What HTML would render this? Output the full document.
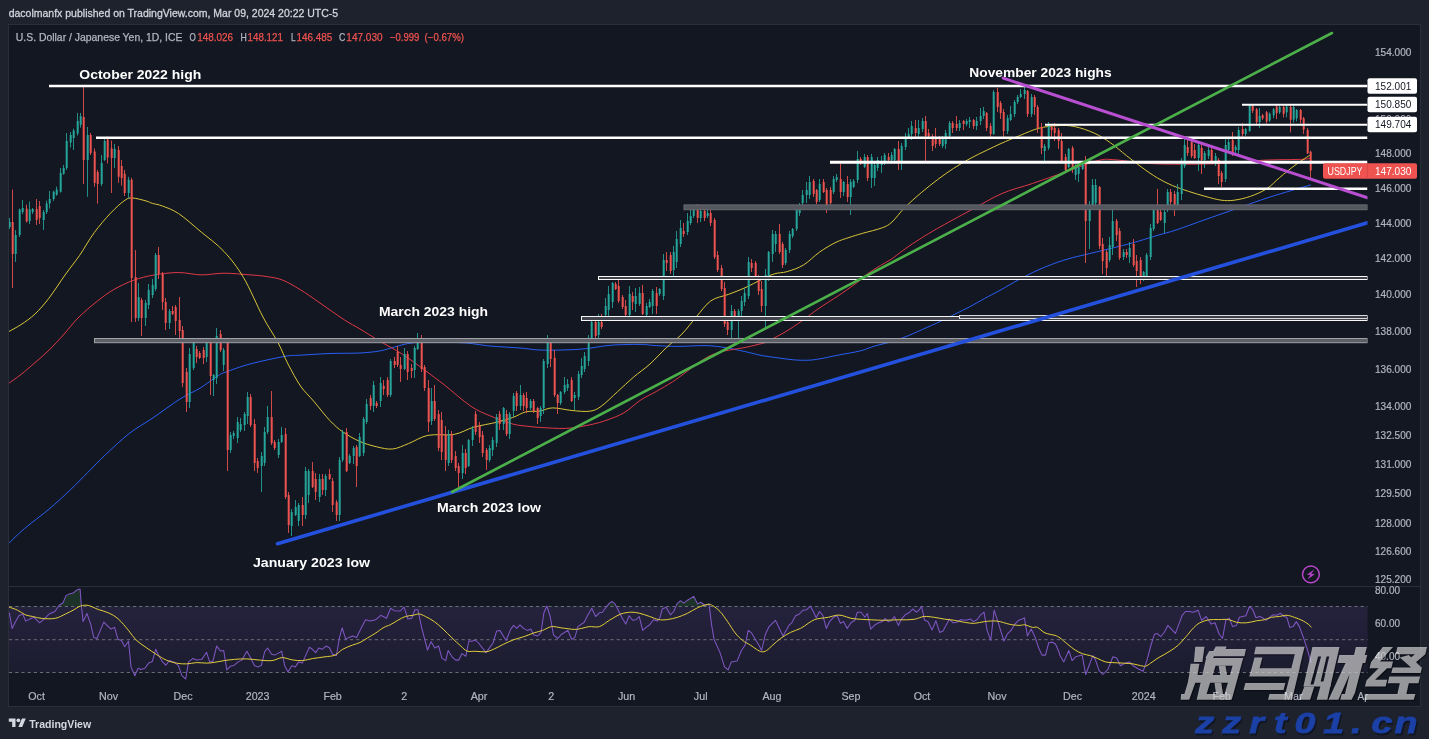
<!DOCTYPE html>
<html><head><meta charset="utf-8"><title>USDJPY</title>
<style>
html,body{margin:0;padding:0;background:#1e222d;}
body{width:1429px;height:739px;overflow:hidden;font-family:"Liberation Sans",sans-serif;}
svg{display:block;will-change:transform}
</style></head><body>
<svg width="1429" height="739" viewBox="0 0 1429 739" font-family="Liberation Sans, sans-serif">
<defs>
<linearGradient id="gBand" x1="0" y1="0" x2="0" y2="1"><stop offset="0" stop-color="#7e57c2" stop-opacity="0.17"/><stop offset="1" stop-color="#7e57c2" stop-opacity="0.08"/></linearGradient>
<clipPath id="cpMain"><rect x="9" y="25" width="1358.5" height="561"/></clipPath>
<clipPath id="cpTime"><rect x="9" y="685" width="1358.5" height="22"/></clipPath>
<clipPath id="cpOB"><rect x="9" y="587" width="1358.5" height="19.5"/></clipPath>
<clipPath id="cpRsi"><rect x="9" y="587" width="1358.5" height="97"/></clipPath>
</defs>
<rect x="0" y="0" width="1429" height="739" fill="#1e222d"/>
<rect x="8.5" y="24.5" width="1412" height="682" fill="#131722" stroke="#2a2e39" stroke-width="1"/>
<line x1="9" y1="586.5" x2="1420" y2="586.5" stroke="#2a2e39" stroke-width="1"/>
<rect x="9" y="606.5" width="1358.5" height="66" fill="url(#gBand)"/>
<line x1="9" y1="606.5" x2="1367.5" y2="606.5" stroke="#8a8d97" stroke-width="0.9" stroke-opacity="0.8" stroke-dasharray="3.2,3"/>
<line x1="9" y1="639.7" x2="1367.5" y2="639.7" stroke="#8a8d97" stroke-width="0.9" stroke-opacity="0.8" stroke-dasharray="3.2,3"/>
<line x1="9" y1="672.5" x2="1367.5" y2="672.5" stroke="#8a8d97" stroke-width="0.9" stroke-opacity="0.8" stroke-dasharray="3.2,3"/>
<g clip-path="url(#cpMain)">
<path d="M8.8 543.3C11.4 540.8 17.9 534.2 24.6 528.5C31.3 522.8 41.6 515.4 49.2 509.0C56.8 502.6 63.8 496.0 70.3 489.9C76.8 483.8 82.0 478.2 87.9 472.3C93.8 466.4 98.5 461.3 105.5 454.7C112.5 448.1 122.2 438.9 130.0 432.9C137.8 426.9 143.7 424.1 152.0 418.5C160.3 412.9 172.0 404.1 180.0 399.0C188.0 393.9 193.8 392.0 200.0 388.2C206.2 384.4 213.2 378.7 217.5 376.0C221.8 373.3 220.6 374.0 226.0 372.0C231.4 370.0 240.3 366.6 250.0 364.0C259.7 361.4 275.7 358.0 284.0 356.5C292.3 355.0 292.3 355.7 300.0 355.2C307.7 354.7 320.0 353.9 330.0 353.5C340.0 353.1 351.7 353.4 360.0 353.0C368.3 352.6 374.6 351.8 380.0 350.9C385.4 350.0 386.6 349.0 392.5 347.6C398.4 346.2 403.8 343.5 415.2 342.7C426.6 341.9 448.2 342.1 460.7 342.7C473.2 343.2 480.1 345.1 490.0 346.0C499.9 346.9 511.8 347.3 520.0 348.0C528.2 348.7 532.5 349.7 539.5 350.0C546.5 350.3 554.6 350.2 562.2 350.0C569.8 349.8 576.9 349.6 585.0 348.8C593.1 348.0 601.8 345.9 611.0 345.2C620.2 344.5 632.5 344.3 640.0 344.4C647.5 344.5 650.0 345.3 656.2 345.6C662.4 345.9 669.3 346.4 677.4 346.4C685.5 346.4 697.7 345.5 705.0 345.6C712.3 345.7 716.3 346.3 721.2 346.9C726.1 347.5 730.1 348.5 734.2 349.3C738.3 350.1 741.0 350.7 745.6 351.7C750.2 352.7 756.4 354.5 761.8 355.5C767.2 356.5 772.6 357.2 778.0 357.9C783.4 358.6 789.1 359.5 794.3 359.9C799.4 360.3 804.6 360.4 808.9 360.2C813.2 360.0 815.1 359.6 820.0 358.8C824.9 358.0 831.6 356.4 838.3 355.1C845.0 353.8 854.1 352.4 860.2 350.9C866.3 349.4 869.9 347.4 874.8 346.0C879.7 344.6 884.5 343.7 889.4 342.3C894.3 340.9 898.5 339.5 904.0 337.4C909.5 335.3 916.2 332.2 922.3 329.5C928.4 326.8 935.1 323.9 940.6 321.3C946.1 318.7 950.3 316.4 955.2 314.0C960.1 311.6 965.0 309.3 969.9 306.7C974.8 304.1 979.5 301.2 984.5 298.5C989.5 295.8 994.2 293.5 1000.0 290.3C1005.8 287.1 1013.0 282.8 1019.5 279.3C1026.0 275.9 1031.4 272.9 1039.0 269.6C1046.6 266.4 1055.2 262.8 1065.0 259.8C1074.8 256.8 1086.7 254.4 1097.5 251.7C1108.3 249.0 1120.2 246.2 1130.0 243.6C1139.8 240.9 1148.3 238.1 1156.0 235.8C1163.7 233.5 1167.8 232.7 1176.0 230.0C1184.2 227.3 1194.8 223.3 1205.0 219.7C1215.2 216.1 1226.7 212.1 1237.5 208.3C1248.3 204.5 1257.8 200.9 1270.0 197.0C1282.2 193.1 1303.8 187.0 1310.6 185.0" fill="none" stroke="#2962ff" stroke-width="0.95" stroke-linejoin="round" stroke-linecap="round" />
<path d="M8.8 383.3C10.8 381.8 16.6 377.9 21.0 374.5C25.4 371.1 30.3 366.7 35.0 362.6C39.7 358.5 44.5 354.6 49.2 350.0C53.9 345.4 58.5 340.3 63.3 335.0C68.1 329.7 72.3 323.7 78.0 318.0C83.7 312.3 91.5 305.7 97.5 301.0C103.5 296.3 107.8 293.0 113.7 289.6C119.7 286.2 126.5 282.8 133.2 280.4C139.9 278.0 146.4 276.3 154.0 275.0C161.6 273.7 170.6 272.5 178.5 272.5C186.4 272.5 193.6 274.8 201.2 274.9C208.8 275.0 215.9 273.2 224.0 273.2C232.1 273.2 243.0 274.3 250.0 274.9C257.0 275.4 260.8 275.6 266.2 276.5C271.6 277.4 276.8 277.8 282.4 280.0C288.0 282.2 293.7 285.7 300.0 289.5C306.3 293.3 312.6 297.9 320.0 303.0C327.4 308.1 337.9 315.7 344.6 320.0C351.3 324.3 354.2 325.5 360.0 329.0C365.8 332.5 372.5 336.8 379.5 341.0C386.5 345.2 394.6 349.1 402.2 354.0C409.8 358.9 417.9 365.2 425.0 370.4C432.1 375.6 436.9 379.1 444.5 385.0C452.1 390.9 462.9 400.9 470.5 406.0C478.1 411.1 483.0 412.8 490.0 415.8C497.0 418.8 506.0 422.2 512.7 424.0C519.4 425.8 525.0 425.9 530.0 426.5C535.0 427.1 536.8 427.3 542.7 427.6C548.6 427.9 558.5 428.7 565.5 428.4C572.5 428.1 578.5 427.1 585.0 425.8C591.5 424.6 598.0 423.1 604.5 420.9C611.0 418.7 618.1 416.2 624.0 412.8C629.9 409.4 634.6 404.1 640.0 400.5C645.4 396.9 650.8 394.6 656.2 391.5C661.6 388.4 667.9 384.8 672.5 381.8C677.1 378.8 679.8 376.7 683.9 373.7C688.0 370.7 692.6 366.9 696.9 363.9C701.2 360.9 705.8 357.8 709.9 355.8C714.0 353.8 717.7 352.7 721.2 351.7C724.7 350.7 727.2 350.5 731.0 349.8C734.8 349.1 739.7 348.6 744.0 347.7C748.3 346.8 753.4 345.6 757.0 344.7C760.6 343.8 762.9 343.5 765.9 342.3C768.9 341.1 771.4 339.4 774.8 337.6C778.2 335.8 781.9 334.0 786.2 331.4C790.5 328.8 796.7 324.5 800.8 321.7C804.9 318.9 807.4 316.8 810.6 314.4C813.8 312.0 815.4 310.7 820.0 307.6C824.6 304.5 832.2 299.8 838.3 295.7C844.4 291.6 851.6 286.6 856.5 283.0C861.4 279.4 863.5 276.7 867.5 273.8C871.5 270.9 876.3 268.0 880.3 265.6C884.3 263.2 887.6 261.6 891.3 259.2C894.9 256.8 897.9 254.1 902.2 251.0C906.5 247.9 911.0 244.7 916.9 240.9C922.8 237.1 928.6 233.5 937.5 228.4C946.4 223.3 959.2 216.4 970.0 210.6C980.8 204.8 991.6 198.0 1002.0 193.5C1012.4 189.0 1022.0 187.1 1032.5 183.5C1043.0 179.9 1054.2 175.9 1065.0 172.1C1075.8 168.3 1089.4 162.8 1097.5 160.7C1105.6 158.6 1105.6 159.3 1113.7 159.7C1121.8 160.1 1134.8 162.6 1146.2 163.3C1157.6 164.1 1169.7 164.2 1182.0 164.2C1194.3 164.2 1206.4 164.2 1220.0 163.5C1233.6 162.8 1249.8 160.9 1263.5 160.2C1277.2 159.5 1294.7 159.7 1302.5 159.3C1310.3 158.9 1309.2 158.2 1310.6 158.0" fill="none" stroke="#e83a48" stroke-width="0.95" stroke-linejoin="round" stroke-linecap="round" />
<path d="M8.8 331.6C10.8 330.4 16.6 327.5 21.0 324.6C25.4 321.7 30.4 318.4 35.0 314.0C39.6 309.6 43.7 305.0 48.7 298.5C53.7 292.0 59.9 282.2 65.0 275.0C70.2 267.8 74.7 262.4 79.6 255.4C84.5 248.3 89.0 239.7 94.2 232.7C99.4 225.7 105.4 218.6 110.5 213.2C115.6 207.8 121.3 202.7 125.0 200.2C128.7 197.7 129.0 197.9 132.5 198.0C136.0 198.1 142.9 200.1 146.2 201.0C149.5 201.9 149.8 202.6 152.5 203.4C155.2 204.2 158.1 204.3 162.4 206.0C166.7 207.7 172.0 209.2 178.5 213.5C185.0 217.8 193.6 225.7 201.2 232.0C208.8 238.3 216.9 243.9 224.0 251.5C231.1 259.1 237.0 266.6 243.5 277.5C250.0 288.4 257.2 306.1 263.0 317.0C268.8 327.9 273.8 334.8 278.0 342.6C282.2 350.4 284.2 356.8 288.0 364.0C291.8 371.2 296.2 379.8 300.5 386.0C304.8 392.2 308.8 395.4 313.7 401.2C318.6 407.0 325.1 415.6 330.0 420.7C334.9 425.8 338.1 428.6 343.0 432.0C347.9 435.4 354.0 438.9 359.5 441.3C365.0 443.8 370.7 445.4 376.2 446.7C381.7 448.0 387.1 449.5 392.5 449.0C397.9 448.5 402.8 445.8 408.7 443.5C414.6 441.2 420.6 436.8 428.2 435.3C435.8 433.8 446.6 435.8 454.2 434.4C461.8 433.0 466.6 429.2 473.7 427.2C480.8 425.2 490.0 423.9 496.5 422.3C503.0 420.7 507.8 419.2 512.7 417.5C517.6 415.8 521.2 413.0 525.7 411.9C530.2 410.8 535.5 411.7 540.0 411.0C544.5 410.3 547.2 408.0 552.5 407.9C557.8 407.8 565.8 409.9 572.0 410.5C578.2 411.1 584.9 411.9 589.8 411.2C594.7 410.5 596.6 409.6 601.2 406.3C605.8 403.1 612.1 396.6 617.5 391.7C622.9 386.8 628.3 381.6 633.7 377.0C639.1 372.4 644.6 368.9 650.0 364.0C655.4 359.1 660.9 352.8 666.2 347.8C671.5 342.8 677.0 339.1 682.0 334.0C687.0 328.9 691.4 322.5 696.2 317.0C701.0 311.5 705.5 304.6 710.9 300.8C716.3 297.0 723.0 296.5 728.7 294.3C734.4 292.1 739.6 290.2 745.0 287.8C750.4 285.4 756.3 282.0 761.2 279.7C766.1 277.4 769.9 275.2 774.2 273.9C778.5 272.5 782.3 273.1 787.2 271.6C792.1 270.1 798.1 268.3 803.5 265.0C808.9 261.7 814.3 255.8 819.7 252.0C825.1 248.2 831.1 244.7 836.0 242.3C840.9 239.9 844.5 239.0 849.0 237.5C853.5 236.0 857.2 234.9 862.7 233.3C868.2 231.7 877.3 229.7 882.2 227.8C887.1 225.9 888.2 225.4 892.0 222.0C895.8 218.6 900.1 212.2 905.0 207.3C909.9 202.4 915.8 197.3 921.2 192.7C926.6 188.1 932.1 183.8 937.5 179.7C942.9 175.6 948.3 171.8 953.7 168.3C959.1 164.8 964.6 161.6 970.0 158.6C975.4 155.6 981.0 153.0 986.2 150.5C991.4 148.0 995.4 146.0 1001.0 143.5C1006.6 141.0 1013.4 138.2 1019.7 135.6C1026.0 133.0 1032.5 129.9 1039.0 128.2C1045.5 126.5 1052.5 125.9 1058.5 125.6C1064.5 125.3 1068.8 125.3 1074.7 126.6C1080.7 127.8 1088.2 130.4 1094.2 133.1C1100.2 135.8 1105.1 139.0 1110.5 142.8C1115.9 146.6 1121.5 151.7 1126.7 155.8C1132.0 159.9 1136.9 163.8 1142.0 167.5C1147.1 171.2 1152.4 175.0 1157.5 178.0C1162.6 181.0 1167.3 183.4 1172.5 185.6C1177.7 187.8 1183.3 189.6 1188.7 191.4C1194.1 193.2 1199.6 194.8 1205.0 196.3C1210.4 197.8 1216.3 199.5 1221.2 200.2C1226.1 200.8 1229.3 200.8 1234.2 200.2C1239.1 199.5 1245.1 198.2 1250.5 196.3C1255.9 194.4 1261.8 191.9 1266.7 188.8C1271.6 185.7 1274.8 181.6 1279.7 177.5C1284.6 173.4 1290.8 168.3 1296.0 164.5C1301.2 160.7 1308.2 156.3 1310.6 154.7" fill="none" stroke="#e3cf3a" stroke-width="0.95" stroke-linejoin="round" stroke-linecap="round" />
<path d="M9.5 218.0V229.0M15.5 230.0V262.0M19.5 208.6V237.0M22.5 200.0V214.0M29.5 201.6V224.0M32.5 208.0V214.0M43.5 210.0V230.0M46.5 200.6V214.0M49.5 191.0V208.6M53.5 190.7V201.0M56.5 186.6V195.7M60.5 168.0V192.7M63.5 164.9V174.8M66.5 133.0V169.9M70.5 132.0V147.5M73.5 128.6V150.0M77.5 113.0V135.6M80.5 113.0V127.7M87.5 127.0V196.8M101.5 155.0V186.0M104.5 138.0V161.0M114.5 144.0V168.0M128.5 176.8V198.0M138.5 283.0V321.0M145.5 300.0V326.0M148.5 284.0V309.0M152.5 279.0V298.0M155.5 253.0V291.0M169.5 309.0V329.0M189.5 348.0V408.0M193.5 340.0V370.0M206.5 339.0V362.0M213.5 374.0V396.0M216.5 328.0V384.0M223.5 348.0V371.0M230.5 432.0V453.0M233.5 431.0V439.0M237.5 417.0V443.0M240.5 418.0V432.0M244.5 412.0V431.0M247.5 392.0V424.0M261.5 452.0V492.0M264.5 427.0V466.0M267.5 406.0V434.0M278.5 439.0V458.0M281.5 427.0V443.0M291.5 509.0V536.0M295.5 500.0V516.0M298.5 503.0V526.0M305.5 467.0V519.0M308.5 469.0V503.0M319.5 474.0V502.0M325.5 474.0V496.0M339.5 457.0V521.0M342.5 430.0V462.0M349.5 454.0V464.0M353.5 446.0V464.0M359.5 433.0V457.0M363.5 417.0V456.0M366.5 399.0V424.0M373.5 381.0V412.0M380.5 377.0V407.0M390.5 359.0V397.0M404.5 348.0V370.0M414.5 346.0V378.0M417.5 333.0V350.0M431.5 388.0V425.0M448.5 430.0V466.0M462.5 445.0V479.0M468.5 439.0V467.0M472.5 426.0V446.0M489.5 445.0V462.0M492.5 437.0V456.0M496.5 414.0V447.0M503.5 407.0V430.0M509.5 412.0V439.0M513.5 393.0V417.0M520.5 385.0V410.0M530.5 399.0V410.0M540.5 406.0V422.0M543.5 359.0V414.0M547.5 335.0V368.0M560.5 391.0V405.0M564.5 377.0V394.0M567.5 379.0V391.0M574.5 392.0V410.0M578.5 371.0V400.0M581.5 358.0V378.0M584.5 352.0V372.0M588.5 335.0V366.0M591.5 320.0V339.0M598.5 314.0V340.0M605.5 298.0V317.0M608.5 286.0V318.0M612.5 282.0V308.0M629.5 286.0V316.0M635.5 288.0V312.0M639.5 287.0V306.0M646.5 303.0V318.0M649.5 299.0V308.0M652.5 289.0V314.0M659.5 288.0V296.0M663.5 254.0V300.0M673.5 246.0V278.0M676.5 231.0V268.0M680.5 220.0V247.0M687.5 213.0V235.0M690.5 210.0V225.0M693.5 205.0V218.0M700.5 205.0V222.0M707.5 208.0V218.0M731.5 305.0V343.0M738.5 309.0V338.0M741.5 296.0V319.0M744.5 288.0V306.0M748.5 257.0V299.0M765.5 269.0V328.0M768.5 251.0V281.0M772.5 230.0V262.0M775.5 231.0V252.0M785.5 248.0V265.0M789.5 231.0V253.0M792.5 228.0V238.0M796.5 207.0V231.0M799.5 203.0V216.0M802.5 190.0V205.0M806.5 182.0V203.0M809.5 176.0V199.0M819.5 179.0V202.0M833.5 176.0V194.0M836.5 174.0V182.0M843.5 181.0V196.0M850.5 179.0V215.0M853.5 179.0V188.0M857.5 151.0V183.0M864.5 154.0V168.0M871.5 154.0V188.0M874.5 162.0V186.0M877.5 157.0V171.0M881.5 156.0V173.0M884.5 153.0V165.0M891.5 152.0V161.0M894.5 148.0V161.0M901.5 143.0V170.0M905.5 133.0V150.0M908.5 128.0V139.0M911.5 121.0V140.0M918.5 120.0V137.0M922.5 118.0V132.0M942.5 136.0V148.0M945.5 130.0V149.0M949.5 121.0V137.0M959.5 120.0V131.0M966.5 119.0V126.0M969.5 117.0V128.0M976.5 117.0V130.0M980.5 108.0V125.0M983.5 107.0V119.0M993.5 90.0V135.0M1007.5 115.0V134.0M1010.5 106.0V121.0M1014.5 100.0V117.0M1017.5 95.0V104.0M1020.5 89.0V98.0M1024.5 87.0V99.0M1031.5 94.0V117.0M1044.5 144.0V161.0M1048.5 122.0V150.0M1068.5 148.0V168.0M1075.5 164.0V180.0M1078.5 161.0V182.0M1082.5 163.0V170.0M1089.5 201.0V249.0M1092.5 179.0V208.0M1095.5 179.0V206.0M1109.5 237.0V262.0M1112.5 210.0V255.0M1123.5 249.0V260.0M1129.5 242.0V263.0M1143.5 271.0V281.0M1146.5 253.0V280.0M1150.5 224.0V260.0M1153.5 207.0V231.0M1164.5 206.0V233.0M1167.5 189.0V212.0M1177.5 184.0V208.0M1181.5 158.0V200.0M1184.5 139.0V168.0M1198.5 142.0V171.0M1204.5 151.0V168.0M1208.5 144.0V159.0M1215.5 153.0V166.0M1225.5 137.0V182.0M1228.5 138.0V152.0M1235.5 145.0V154.0M1238.5 127.0V156.0M1245.5 128.0V136.0M1249.5 104.4V131.9M1259.5 107.9V128.0M1269.5 112.5V122.0M1273.5 108.0V118.3M1279.5 105.5V114.0M1286.5 105.0V117.3M1293.5 105.5V122.8M1296.5 109.0V121.4" stroke="#26a69a" stroke-width="1" stroke-opacity="0.85" fill="none"/><path d="M12.5 189.6V288.0M26.5 204.7V222.5M36.5 199.0V225.0M39.5 201.0V224.0M83.5 86.5V184.0M90.5 133.0V155.0M94.5 148.5V186.8M97.5 170.0V203.6M107.5 136.6V163.4M111.5 140.5V193.0M118.5 146.0V182.8M121.5 160.0V185.7M124.5 169.8V196.0M131.5 177.8V322.0M135.5 250.0V322.0M141.5 298.0V336.0M158.5 247.0V279.0M162.5 272.0V310.0M165.5 298.0V330.0M172.5 306.0V315.0M175.5 305.0V335.0M179.5 297.0V339.0M182.5 326.0V387.0M186.5 368.0V412.0M196.5 346.0V363.0M199.5 351.0V359.0M203.5 347.0V364.0M210.5 338.0V395.0M220.5 330.0V352.0M227.5 341.0V471.0M250.5 394.0V427.0M254.5 419.0V471.0M257.5 458.0V473.0M271.5 391.0V445.0M274.5 440.0V450.0M285.5 428.0V499.0M288.5 492.0V533.0M302.5 497.0V526.0M312.5 462.0V488.0M315.5 473.0V500.0M322.5 474.0V495.0M329.5 469.0V480.0M332.5 478.0V512.0M336.5 500.0V521.0M346.5 428.0V472.0M356.5 445.0V487.0M370.5 395.0V410.0M376.5 401.0V408.0M383.5 380.0V395.0M387.5 377.0V397.0M394.5 357.0V368.0M397.5 346.0V367.0M400.5 357.0V382.0M407.5 351.0V380.0M411.5 364.0V378.0M421.5 335.0V372.0M424.5 365.0V391.0M428.5 380.0V432.0M434.5 385.0V421.0M438.5 410.0V451.0M441.5 412.0V460.0M445.5 426.0V471.0M451.5 431.0V463.0M455.5 451.0V471.0M458.5 463.0V487.0M465.5 449.0V474.0M475.5 411.0V435.0M479.5 422.0V443.0M482.5 431.0V457.0M486.5 448.0V470.0M499.5 411.0V430.0M506.5 410.0V436.0M516.5 391.0V411.0M523.5 393.0V411.0M526.5 392.0V413.0M533.5 399.0V413.0M537.5 407.0V424.0M550.5 341.0V367.0M554.5 350.0V397.0M557.5 394.0V414.0M571.5 377.0V402.0M595.5 318.0V342.0M601.5 314.0V329.0M615.5 282.0V290.0M618.5 277.0V303.0M622.5 295.0V309.0M625.5 300.0V317.0M632.5 292.0V310.0M642.5 285.0V315.0M656.5 287.0V314.0M666.5 252.0V271.0M670.5 252.0V274.0M683.5 223.0V237.0M697.5 204.0V223.0M704.5 209.0V221.0M710.5 210.0V226.0M714.5 218.0V259.0M717.5 251.0V272.0M721.5 265.0V291.0M724.5 282.0V327.0M727.5 320.0V335.0M734.5 309.0V320.0M751.5 259.0V272.0M755.5 261.0V280.0M758.5 275.0V295.0M761.5 281.0V312.0M779.5 224.0V254.0M782.5 242.0V268.0M813.5 179.0V197.0M816.5 189.0V204.0M823.5 179.0V193.0M826.5 188.0V213.0M830.5 187.0V205.0M840.5 164.0V198.0M847.5 176.0V202.0M860.5 157.0V165.0M867.5 155.0V181.0M888.5 153.0V161.0M898.5 141.0V170.0M915.5 120.0V138.0M925.5 116.0V163.0M928.5 129.0V139.0M932.5 134.0V151.0M935.5 128.0V148.0M939.5 136.0V146.0M952.5 121.0V133.0M956.5 116.0V131.0M963.5 120.0V130.0M973.5 119.0V129.0M986.5 112.0V131.0M990.5 123.0V138.0M997.5 88.0V112.0M1000.5 101.0V119.0M1003.5 109.0V139.0M1027.5 90.0V117.0M1034.5 95.0V115.0M1037.5 105.0V133.0M1041.5 123.0V154.0M1051.5 126.0V138.0M1054.5 123.0V141.0M1058.5 128.0V149.0M1061.5 133.0V162.0M1065.5 154.0V172.0M1072.5 146.0V173.0M1085.5 156.0V263.0M1099.5 186.0V249.0M1102.5 238.0V274.0M1106.5 250.0V276.0M1116.5 219.0V241.0M1119.5 228.0V260.0M1126.5 249.0V258.0M1133.5 239.0V267.0M1136.5 255.0V287.0M1140.5 257.0V284.0M1157.5 189.0V224.0M1160.5 206.0V221.0M1170.5 189.0V208.0M1174.5 191.0V216.0M1187.5 139.0V156.0M1191.5 139.0V158.0M1194.5 144.0V159.0M1201.5 142.0V174.0M1211.5 145.0V164.0M1218.5 158.0V184.0M1221.5 171.0V187.0M1232.5 132.0V156.0M1242.5 123.0V139.0M1252.5 104.6V113.0M1256.5 108.0V125.7M1262.5 114.0V120.0M1266.5 111.0V123.5M1276.5 105.0V119.1M1283.5 105.5V117.5M1290.5 105.5V132.4M1300.5 109.0V123.5M1303.5 117.0V133.9M1307.5 128.0V154.0M1310.5 150.7V178.5" stroke="#ef5350" stroke-width="1" stroke-opacity="0.85" fill="none"/><path d="M8.7 222.0h2V227.0h-2zM14.7 235.0h2V254.0h-2zM18.7 209.6h2V235.0h-2zM21.7 208.0h2V212.0h-2zM28.7 209.6h2V221.0h-2zM31.7 209.0h2V212.0h-2zM42.7 212.0h2V220.0h-2zM45.7 203.6h2V212.0h-2zM48.7 199.0h2V203.6h-2zM52.7 191.7h2V199.0h-2zM55.7 189.6h2V194.7h-2zM59.7 173.0h2V191.7h-2zM62.7 167.9h2V173.8h-2zM65.7 141.0h2V167.9h-2zM69.7 135.0h2V142.5h-2zM72.7 130.6h2V138.0h-2zM76.7 121.0h2V133.6h-2zM79.7 116.3h2V124.7h-2zM86.7 135.0h2V160.0h-2zM100.7 163.0h2V184.0h-2zM103.7 141.0h2V160.0h-2zM113.7 149.0h2V158.0h-2zM127.7 179.8h2V193.0h-2zM137.7 297.0h2V318.0h-2zM144.7 303.0h2V318.0h-2zM147.7 290.0h2V305.0h-2zM151.7 285.0h2V295.0h-2zM154.7 255.0h2V289.0h-2zM168.7 311.0h2V323.0h-2zM188.7 354.0h2V402.0h-2zM192.7 342.0h2V368.0h-2zM205.7 342.0h2V357.0h-2zM212.7 375.0h2V380.0h-2zM215.7 336.0h2V378.0h-2zM222.7 350.0h2V365.0h-2zM229.7 435.0h2V450.0h-2zM232.7 433.0h2V436.0h-2zM236.7 422.0h2V438.0h-2zM239.7 424.0h2V430.0h-2zM243.7 414.0h2V425.0h-2zM246.7 397.0h2V416.0h-2zM260.7 456.0h2V466.0h-2zM263.7 432.0h2V463.0h-2zM266.7 417.0h2V432.0h-2zM277.7 442.0h2V455.0h-2zM280.7 435.0h2V442.0h-2zM290.7 512.0h2V526.0h-2zM294.7 507.0h2V515.0h-2zM297.7 505.0h2V521.0h-2zM304.7 471.0h2V515.0h-2zM307.7 471.0h2V495.0h-2zM318.7 479.0h2V497.0h-2zM324.7 476.0h2V490.0h-2zM338.7 460.0h2V515.0h-2zM341.7 432.0h2V460.0h-2zM348.7 456.0h2V463.0h-2zM352.7 448.0h2V456.0h-2zM358.7 437.0h2V456.0h-2zM362.7 419.0h2V453.0h-2zM365.7 404.0h2V422.0h-2zM372.7 385.0h2V406.0h-2zM379.7 383.0h2V401.0h-2zM389.7 361.0h2V395.0h-2zM403.7 354.0h2V369.0h-2zM413.7 348.0h2V370.0h-2zM416.7 343.0h2V349.0h-2zM430.7 401.0h2V421.0h-2zM447.7 434.0h2V463.0h-2zM461.7 453.0h2V473.0h-2zM467.7 440.0h2V466.0h-2zM471.7 429.0h2V440.0h-2zM488.7 448.0h2V460.0h-2zM491.7 440.0h2V450.0h-2zM495.7 417.0h2V443.0h-2zM502.7 408.0h2V424.0h-2zM508.7 414.0h2V434.0h-2zM512.7 396.0h2V411.0h-2zM519.7 395.0h2V406.0h-2zM529.7 401.0h2V408.0h-2zM539.7 408.0h2V416.0h-2zM542.7 361.0h2V408.0h-2zM546.7 343.0h2V364.0h-2zM559.7 392.0h2V403.0h-2zM563.7 385.0h2V392.0h-2zM566.7 384.0h2V388.0h-2zM573.7 395.0h2V398.0h-2zM577.7 374.0h2V397.0h-2zM580.7 366.0h2V375.0h-2zM583.7 356.0h2V369.0h-2zM587.7 343.0h2V361.0h-2zM590.7 322.0h2V338.0h-2zM597.7 322.0h2V335.0h-2zM604.7 306.0h2V315.0h-2zM607.7 294.0h2V310.0h-2zM611.7 283.0h2V302.0h-2zM628.7 294.0h2V315.0h-2zM634.7 296.0h2V304.0h-2zM638.7 293.0h2V304.0h-2zM645.7 306.0h2V315.0h-2zM648.7 302.0h2V307.0h-2zM651.7 291.0h2V306.0h-2zM658.7 289.0h2V294.0h-2zM662.7 260.0h2V296.0h-2zM672.7 252.0h2V270.0h-2zM675.7 239.0h2V262.0h-2zM679.7 228.0h2V244.0h-2zM686.7 221.0h2V232.0h-2zM689.7 216.0h2V223.0h-2zM692.7 210.0h2V216.0h-2zM699.7 211.0h2V218.0h-2zM706.7 213.0h2V216.0h-2zM730.7 311.0h2V330.0h-2zM737.7 311.0h2V317.0h-2zM740.7 301.0h2V311.0h-2zM743.7 293.0h2V302.0h-2zM747.7 262.0h2V296.0h-2zM764.7 275.0h2V306.0h-2zM767.7 252.0h2V276.0h-2zM771.7 234.0h2V254.0h-2zM774.7 234.0h2V244.0h-2zM784.7 250.0h2V263.0h-2zM788.7 234.0h2V250.0h-2zM791.7 229.0h2V236.0h-2zM795.7 210.0h2V229.0h-2zM798.7 208.0h2V213.0h-2zM801.7 195.0h2V203.0h-2zM805.7 190.0h2V195.0h-2zM808.7 182.0h2V195.0h-2zM818.7 184.0h2V200.0h-2zM832.7 179.0h2V192.0h-2zM835.7 177.0h2V180.0h-2zM842.7 182.0h2V192.0h-2zM849.7 182.0h2V197.0h-2zM852.7 181.0h2V187.0h-2zM856.7 159.0h2V180.0h-2zM863.7 157.0h2V167.0h-2zM870.7 157.0h2V178.0h-2zM873.7 165.0h2V178.0h-2zM876.7 160.0h2V168.0h-2zM880.7 162.0h2V165.0h-2zM883.7 155.0h2V162.0h-2zM890.7 155.0h2V160.0h-2zM893.7 149.0h2V160.0h-2zM900.7 146.0h2V162.0h-2zM904.7 139.0h2V147.0h-2zM907.7 134.0h2V137.0h-2zM910.7 126.0h2V134.0h-2zM917.7 128.0h2V134.0h-2zM921.7 121.0h2V129.0h-2zM941.7 137.0h2V146.0h-2zM944.7 133.0h2V144.0h-2zM948.7 123.0h2V136.0h-2zM958.7 123.0h2V128.0h-2zM965.7 121.0h2V124.0h-2zM968.7 120.0h2V122.0h-2zM975.7 121.0h2V126.0h-2zM979.7 116.0h2V121.0h-2zM982.7 111.0h2V116.0h-2zM992.7 92.0h2V134.0h-2zM1006.7 118.0h2V131.0h-2zM1009.7 114.0h2V120.0h-2zM1013.7 102.0h2V114.0h-2zM1016.7 97.0h2V102.0h-2zM1019.7 94.0h2V97.0h-2zM1023.7 90.0h2V94.0h-2zM1030.7 97.0h2V114.0h-2zM1043.7 146.0h2V151.0h-2zM1047.7 125.0h2V148.0h-2zM1067.7 149.0h2V167.0h-2zM1074.7 166.0h2V175.0h-2zM1077.7 167.0h2V174.0h-2zM1081.7 164.0h2V169.0h-2zM1088.7 209.0h2V221.0h-2zM1091.7 185.0h2V205.0h-2zM1094.7 185.0h2V203.0h-2zM1108.7 245.0h2V260.0h-2zM1111.7 221.0h2V247.0h-2zM1122.7 252.0h2V257.0h-2zM1128.7 248.0h2V257.0h-2zM1142.7 272.0h2V278.0h-2zM1145.7 255.0h2V278.0h-2zM1149.7 228.0h2V257.0h-2zM1152.7 210.0h2V229.0h-2zM1163.7 212.0h2V223.0h-2zM1166.7 192.0h2V210.0h-2zM1176.7 192.0h2V205.0h-2zM1180.7 164.0h2V194.0h-2zM1183.7 145.0h2V166.0h-2zM1197.7 145.0h2V158.0h-2zM1203.7 153.0h2V160.0h-2zM1207.7 150.0h2V156.0h-2zM1214.7 156.0h2V164.0h-2zM1224.7 145.0h2V179.0h-2zM1227.7 142.0h2V150.0h-2zM1234.7 147.0h2V150.0h-2zM1237.7 130.0h2V150.0h-2zM1244.7 129.0h2V134.0h-2zM1248.7 104.9h2V130.9h-2zM1258.7 116.0h2V122.0h-2zM1268.7 113.8h2V120.5h-2zM1272.7 109.3h2V115.3h-2zM1278.7 107.1h2V112.3h-2zM1285.7 106.4h2V112.3h-2zM1292.7 107.1h2V119.8h-2zM1295.7 110.0h2V118.3h-2z" fill="#26a69a"/><path d="M11.7 222.0h2V254.0h-2zM25.7 208.7h2V221.5h-2zM35.7 209.0h2V220.0h-2zM38.7 206.0h2V218.0h-2zM82.7 117.0h2V160.0h-2zM89.7 135.0h2V153.0h-2zM93.7 151.5h2V182.8h-2zM96.7 172.0h2V184.0h-2zM106.7 139.6h2V157.4h-2zM110.7 148.5h2V158.0h-2zM117.7 150.0h2V176.8h-2zM120.7 166.0h2V178.0h-2zM123.7 173.8h2V193.0h-2zM130.7 179.8h2V278.0h-2zM134.7 277.0h2V318.0h-2zM140.7 300.0h2V318.0h-2zM157.7 255.0h2V274.0h-2zM161.7 274.0h2V302.0h-2zM164.7 302.0h2V323.0h-2zM171.7 311.0h2V314.0h-2zM174.7 307.0h2V321.0h-2zM178.7 320.0h2V331.0h-2zM181.7 330.0h2V383.0h-2zM185.7 372.0h2V402.0h-2zM195.7 349.0h2V357.0h-2zM198.7 353.0h2V358.0h-2zM202.7 350.0h2V358.0h-2zM209.7 342.0h2V376.0h-2zM219.7 334.0h2V350.0h-2zM226.7 342.0h2V450.0h-2zM249.7 397.0h2V425.0h-2zM253.7 424.0h2V463.0h-2zM256.7 461.0h2V468.0h-2zM270.7 417.0h2V443.0h-2zM273.7 442.0h2V448.0h-2zM284.7 434.0h2V497.0h-2zM287.7 495.0h2V525.0h-2zM301.7 505.0h2V515.0h-2zM311.7 471.0h2V487.0h-2zM314.7 479.0h2V492.0h-2zM321.7 479.0h2V490.0h-2zM328.7 474.0h2V479.0h-2zM331.7 481.0h2V505.0h-2zM335.7 502.0h2V515.0h-2zM345.7 432.0h2V471.0h-2zM355.7 447.0h2V466.0h-2zM369.7 398.0h2V406.0h-2zM375.7 403.0h2V406.0h-2zM382.7 386.0h2V389.0h-2zM386.7 380.0h2V395.0h-2zM393.7 361.0h2V365.0h-2zM396.7 352.0h2V365.0h-2zM399.7 365.0h2V369.0h-2zM406.7 354.0h2V372.0h-2zM410.7 368.0h2V371.0h-2zM420.7 343.0h2V369.0h-2zM423.7 367.0h2V388.0h-2zM427.7 388.0h2V422.0h-2zM433.7 401.0h2V419.0h-2zM437.7 414.0h2V448.0h-2zM440.7 420.0h2V452.0h-2zM444.7 434.0h2V460.0h-2zM450.7 434.0h2V460.0h-2zM454.7 456.0h2V468.0h-2zM457.7 466.0h2V473.0h-2zM464.7 453.0h2V468.0h-2zM474.7 414.0h2V432.0h-2zM478.7 426.0h2V437.0h-2zM481.7 435.0h2V453.0h-2zM485.7 450.0h2V460.0h-2zM498.7 414.0h2V424.0h-2zM505.7 414.0h2V434.0h-2zM515.7 393.0h2V406.0h-2zM522.7 395.0h2V406.0h-2zM525.7 398.0h2V408.0h-2zM532.7 401.0h2V411.0h-2zM536.7 408.0h2V418.0h-2zM549.7 343.0h2V359.0h-2zM553.7 358.0h2V395.0h-2zM556.7 395.0h2V403.0h-2zM570.7 380.0h2V401.0h-2zM594.7 322.0h2V336.0h-2zM600.7 322.0h2V327.0h-2zM614.7 284.0h2V289.0h-2zM617.7 286.0h2V301.0h-2zM621.7 297.0h2V307.0h-2zM624.7 306.0h2V315.0h-2zM631.7 296.0h2V302.0h-2zM641.7 293.0h2V314.0h-2zM655.7 293.0h2V306.0h-2zM665.7 260.0h2V263.0h-2zM669.7 255.0h2V271.0h-2zM682.7 231.0h2V234.0h-2zM696.7 210.0h2V218.0h-2zM703.7 211.0h2V218.0h-2zM709.7 213.0h2V223.0h-2zM713.7 220.0h2V257.0h-2zM716.7 255.0h2V270.0h-2zM720.7 268.0h2V289.0h-2zM723.7 288.0h2V324.0h-2zM726.7 322.0h2V330.0h-2zM733.7 311.0h2V317.0h-2zM750.7 263.0h2V268.0h-2zM754.7 263.0h2V276.0h-2zM757.7 276.0h2V291.0h-2zM760.7 289.0h2V306.0h-2zM778.7 234.0h2V252.0h-2zM781.7 244.0h2V265.0h-2zM812.7 181.0h2V194.0h-2zM815.7 190.0h2V202.0h-2zM822.7 182.0h2V192.0h-2zM825.7 190.0h2V205.0h-2zM829.7 190.0h2V203.0h-2zM839.7 179.0h2V192.0h-2zM846.7 184.0h2V197.0h-2zM859.7 159.0h2V163.0h-2zM866.7 157.0h2V178.0h-2zM887.7 157.0h2V160.0h-2zM897.7 149.0h2V162.0h-2zM914.7 128.0h2V133.0h-2zM924.7 121.0h2V136.0h-2zM927.7 133.0h2V136.0h-2zM931.7 136.0h2V146.0h-2zM934.7 137.0h2V144.0h-2zM938.7 137.0h2V144.0h-2zM951.7 123.0h2V128.0h-2zM955.7 124.0h2V128.0h-2zM962.7 121.0h2V124.0h-2zM972.7 120.0h2V126.0h-2zM985.7 113.0h2V128.0h-2zM989.7 126.0h2V134.0h-2zM996.7 92.0h2V107.0h-2zM999.7 103.0h2V113.0h-2zM1002.7 112.0h2V131.0h-2zM1026.7 91.0h2V114.0h-2zM1033.7 97.0h2V107.0h-2zM1036.7 107.0h2V128.0h-2zM1040.7 127.0h2V148.0h-2zM1050.7 127.0h2V130.0h-2zM1053.7 128.0h2V133.0h-2zM1057.7 130.0h2V141.0h-2zM1060.7 141.0h2V161.0h-2zM1064.7 157.0h2V170.0h-2zM1071.7 148.0h2V169.0h-2zM1084.7 164.0h2V221.0h-2zM1098.7 187.0h2V246.0h-2zM1101.7 244.0h2V261.0h-2zM1105.7 252.0h2V268.0h-2zM1115.7 221.0h2V235.0h-2zM1118.7 231.0h2V258.0h-2zM1125.7 252.0h2V255.0h-2zM1132.7 244.0h2V265.0h-2zM1135.7 261.0h2V271.0h-2zM1139.7 260.0h2V280.0h-2zM1156.7 210.0h2V223.0h-2zM1159.7 212.0h2V220.0h-2zM1169.7 192.0h2V202.0h-2zM1173.7 194.0h2V205.0h-2zM1186.7 147.0h2V153.0h-2zM1190.7 142.0h2V156.0h-2zM1193.7 150.0h2V158.0h-2zM1200.7 148.0h2V160.0h-2zM1210.7 150.0h2V161.0h-2zM1217.7 160.0h2V176.0h-2zM1220.7 173.0h2V182.0h-2zM1231.7 140.0h2V153.0h-2zM1241.7 129.0h2V134.0h-2zM1251.7 105.6h2V110.8h-2zM1255.7 109.3h2V122.0h-2zM1261.7 115.3h2V118.3h-2zM1265.7 112.3h2V121.3h-2zM1275.7 106.4h2V113.1h-2zM1282.7 107.1h2V113.8h-2zM1289.7 107.1h2V119.8h-2zM1299.7 110.0h2V119.8h-2zM1302.7 118.3h2V129.4h-2zM1306.7 129.9h2V153.2h-2zM1309.7 151.8h2V170.4h-2z" fill="#ef5350"/>
<rect x="94.5" y="338.5" width="1273.0" height="4.199999999999989" fill="#5d5f67" stroke="#a0a2a8" stroke-width="1"/>
<rect x="581.5" y="316.5" width="786.0" height="4.0" fill="#41434d" stroke="#f6f6f6" stroke-width="1"/>
<rect x="959.5" y="315.5" width="408.0" height="3.0" fill="#3b3d47" stroke="#dcdcde" stroke-width="1"/>
<rect x="598.5" y="276.5" width="769.0" height="3.0" fill="#3f414b" stroke="#fafafa" stroke-width="1"/>
<rect x="684" y="204.9" width="683.5" height="4.799999999999983" fill="#55575f" stroke="#6a6c74" stroke-width="1"/>
<line x1="49" y1="86" x2="1367.5" y2="86" stroke="#ffffff" stroke-width="2.6"/>
<line x1="96" y1="137.8" x2="1367.5" y2="137.8" stroke="#ffffff" stroke-width="2.6"/>
<line x1="830" y1="162.3" x2="1367.5" y2="162.3" stroke="#ffffff" stroke-width="3"/>
<line x1="1204" y1="188.7" x2="1367.5" y2="188.7" stroke="#ffffff" stroke-width="2.6"/>
<line x1="1045" y1="124.8" x2="1367.5" y2="124.8" stroke="#ffffff" stroke-width="2"/>
<line x1="1242" y1="104.7" x2="1367.5" y2="104.7" stroke="#ffffff" stroke-width="2"/>
<line x1="277.5" y1="543.7" x2="1367.5" y2="222.8" stroke="#2350dc" stroke-width="3.6" stroke-linecap="round"/>
<line x1="452" y1="492" x2="1332" y2="33" stroke="#4cb04a" stroke-width="2.6" stroke-linecap="round"/>
<line x1="1003.2" y1="78.1" x2="1367.5" y2="197.8" stroke="#b74fd0" stroke-width="3" stroke-linecap="round"/>
</g>
<g font-family="Liberation Sans, sans-serif" font-weight="bold" fill="#fff" font-size="13.6">
<text x="79.3" y="78.5" textLength="122" lengthAdjust="spacingAndGlyphs">October 2022 high</text>
<text x="969.3" y="77.2" textLength="142.4" lengthAdjust="spacingAndGlyphs">November 2023 highs</text>
<text x="379" y="315.5" textLength="109" lengthAdjust="spacingAndGlyphs">March 2023 high</text>
<text x="437" y="511.5" textLength="104" lengthAdjust="spacingAndGlyphs">March 2023 low</text>
<text x="253" y="566.5" textLength="117" lengthAdjust="spacingAndGlyphs">January 2023 low</text>
</g>
<g clip-path="url(#cpRsi)">
<path d="M9.3 612.8L12.1 628.4L15.6 621.6L18.9 615.8L22.7 614.0L25.7 621.1L29.7 619.1L34.0 617.3L39.6 622.8L44.1 619.1L49.1 614.0L54.9 611.5L59.2 605.2L63.0 602.7L66.0 595.6L69.3 593.9L73.1 593.1L76.8 590.1L80.1 589.1L81.1 602.7L83.1 621.6L86.9 613.5L90.7 624.1L93.7 637.4L97.0 638.5L100.3 630.4L103.8 622.1L107.1 625.4L110.9 629.1L114.6 627.4L117.9 639.2L121.4 640.5L124.7 646.8L128.5 641.2L131.0 666.9L134.8 675.7L138.1 668.2L141.1 669.4L144.9 668.2L148.7 663.1L152.4 661.4L155.7 649.3L158.7 655.6L162.5 661.9L165.8 665.2L169.3 660.6L173.8 661.9L178.4 665.7L181.9 675.7L185.7 679.0L188.5 661.9L192.7 658.6L196.5 660.1L201.6 659.6L206.6 652.3L209.6 661.9L212.9 661.1L216.7 646.0L220.5 651.1L223.7 650.5L226.8 669.9L230.5 666.2L234.3 665.2L238.1 661.9L241.9 660.1L246.9 651.3L250.7 658.1L254.5 665.7L258.3 666.9L261.5 665.2L264.6 651.8L267.6 648.0L271.6 654.3L274.6 655.1L278.4 653.1L281.7 651.3L284.7 665.7L288.0 672.0L291.8 665.7L295.3 666.9L298.6 661.9L302.3 663.1L305.6 655.6L309.4 647.3L312.4 649.3L315.7 652.6L318.7 648.0L322.0 649.3L326.3 646.0L329.6 648.0L332.6 654.3L336.4 655.6L339.4 637.9L342.2 627.9L345.7 639.2L349.0 637.4L352.7 635.9L356.5 637.4L360.0 630.4L365.5 619.8L370.1 621.1L375.6 619.8L380.7 615.3L386.5 618.3L390.7 608.2L394.0 610.7L400.3 611.0L404.1 607.2L407.9 619.1L411.7 618.3L414.9 609.7L417.9 609.7L421.7 627.9L427.5 650.0L431.1 641.7L434.8 648.0L438.6 646.0L441.9 658.1L445.7 660.6L448.2 650.5L452.0 656.8L455.7 660.1L458.8 660.1L462.0 653.6L465.8 656.3L468.8 641.0L472.1 641.2L475.4 640.0L478.9 643.5L486.0 652.6L493.0 643.0L496.6 631.1L499.8 630.4L506.1 640.5L510.7 629.1L513.7 625.4L516.7 628.4L520.0 624.8L523.8 628.6L527.5 630.4L530.8 629.1L533.8 634.9L537.6 635.9L540.9 632.9L543.9 612.8L546.9 606.0L550.2 616.5L553.5 634.9L557.8 638.5L561.6 634.2L567.9 630.4L571.6 639.2L574.9 637.4L577.9 626.6L584.2 622.3L588.0 614.8L591.8 608.2L595.6 616.5L599.4 612.8L602.4 612.2L605.7 607.7L609.4 603.2L612.0 601.4L615.0 603.9L618.3 610.2L622.0 617.8L625.8 624.1L629.1 615.8L632.6 620.3L635.9 619.8L639.2 616.5L642.7 630.4L646.0 627.4L649.7 624.8L653.5 619.8L657.3 621.1L659.8 617.8L662.3 609.0L666.1 607.2L670.4 614.8L673.7 611.5L677.0 603.9L680.5 600.7L683.8 603.2L687.5 600.2L693.8 596.4L697.6 603.9L700.6 602.2L705.2 605.2L709.0 603.9L711.5 624.1L714.0 639.2L720.0 652.6L724.5 666.9L728.1 669.9L731.3 661.9L737.1 661.1L741.4 650.5L745.2 645.0L748.2 630.4L751.5 632.9L755.3 639.2L759.1 645.5L761.6 650.5L765.4 634.2L769.1 626.6L775.4 620.3L783.0 635.9L789.3 624.8L791.8 622.8L795.6 615.8L799.4 614.0L803.1 610.2L806.9 609.7L810.2 606.0L813.2 611.5L816.2 617.8L819.5 611.5L822.8 615.3L826.3 628.4L829.6 621.6L833.4 617.3L837.2 615.8L840.4 623.3L843.5 621.6L847.2 628.4L851.0 622.8L854.8 620.3L857.3 612.2L861.1 612.2L864.9 617.3L867.4 613.5L870.7 629.1L875.0 624.8L878.7 622.8L882.5 621.6L885.0 618.5L888.3 621.6L891.3 620.8L894.4 616.5L898.4 625.4L901.4 619.1L905.2 614.8L909.0 612.8L912.7 609.0L916.5 612.2L919.0 610.2L921.6 606.5L924.6 620.3L927.9 621.6L932.1 629.9L935.9 620.8L939.7 632.4L943.0 630.9L946.8 624.1L949.3 619.1L953.1 622.8L956.8 622.3L960.6 619.8L965.7 620.3L970.7 619.1L973.2 621.6L977.0 619.8L980.8 614.8L984.0 612.2L987.1 630.4L990.8 640.5L994.1 610.2L997.1 619.1L1000.2 629.1L1004.0 641.0L1007.2 634.2L1011.0 630.4L1014.8 624.1L1018.6 620.3L1022.3 619.1L1024.4 617.8L1027.4 635.9L1031.2 629.1L1034.9 636.7L1038.7 648.0L1042.0 655.1L1045.5 655.1L1048.8 642.5L1052.6 642.2L1055.6 644.2L1058.9 651.8L1060.0 655.6L1063.8 661.9L1068.8 650.5L1072.1 660.6L1075.6 656.8L1082.2 655.1L1085.7 674.5L1089.0 665.7L1092.8 655.6L1095.3 659.4L1099.1 670.7L1102.8 674.5L1107.9 669.4L1112.9 656.8L1116.7 658.1L1120.5 665.7L1125.5 663.1L1129.3 661.9L1133.1 665.7L1138.1 668.7L1143.1 671.2L1146.9 660.6L1150.7 646.0L1154.5 634.2L1157.0 633.4L1160.8 636.7L1164.6 631.7L1167.8 625.4L1171.4 629.1L1175.4 633.4L1178.9 624.1L1182.2 615.3L1185.5 611.5L1189.0 611.5L1193.5 612.2L1198.1 610.2L1201.6 620.3L1206.1 616.5L1211.2 624.1L1215.0 622.8L1219.2 634.2L1222.5 638.5L1225.8 620.3L1229.3 618.3L1232.6 626.6L1236.4 625.4L1239.4 617.3L1242.7 616.5L1245.9 615.8L1249.5 606.5L1252.7 609.7L1256.0 617.8L1259.5 616.5L1262.8 617.8L1266.1 620.3L1269.6 617.3L1272.9 614.8L1276.7 615.3L1280.5 613.3L1284.2 616.5L1286.8 617.3L1289.8 627.4L1293.1 626.6L1296.3 621.6L1299.4 626.6L1303.1 636.7L1306.9 648.0L1311.2 662.6L1311.2 606.5L9.3 606.5Z" fill="#4caf50" fill-opacity="0.18" clip-path="url(#cpOB)"/>
<polyline points="9.3,612.8 12.1,628.4 15.6,621.6 18.9,615.8 22.7,614.0 25.7,621.1 29.7,619.1 34.0,617.3 39.6,622.8 44.1,619.1 49.1,614.0 54.9,611.5 59.2,605.2 63.0,602.7 66.0,595.6 69.3,593.9 73.1,593.1 76.8,590.1 80.1,589.1 81.1,602.7 83.1,621.6 86.9,613.5 90.7,624.1 93.7,637.4 97.0,638.5 100.3,630.4 103.8,622.1 107.1,625.4 110.9,629.1 114.6,627.4 117.9,639.2 121.4,640.5 124.7,646.8 128.5,641.2 131.0,666.9 134.8,675.7 138.1,668.2 141.1,669.4 144.9,668.2 148.7,663.1 152.4,661.4 155.7,649.3 158.7,655.6 162.5,661.9 165.8,665.2 169.3,660.6 173.8,661.9 178.4,665.7 181.9,675.7 185.7,679.0 188.5,661.9 192.7,658.6 196.5,660.1 201.6,659.6 206.6,652.3 209.6,661.9 212.9,661.1 216.7,646.0 220.5,651.1 223.7,650.5 226.8,669.9 230.5,666.2 234.3,665.2 238.1,661.9 241.9,660.1 246.9,651.3 250.7,658.1 254.5,665.7 258.3,666.9 261.5,665.2 264.6,651.8 267.6,648.0 271.6,654.3 274.6,655.1 278.4,653.1 281.7,651.3 284.7,665.7 288.0,672.0 291.8,665.7 295.3,666.9 298.6,661.9 302.3,663.1 305.6,655.6 309.4,647.3 312.4,649.3 315.7,652.6 318.7,648.0 322.0,649.3 326.3,646.0 329.6,648.0 332.6,654.3 336.4,655.6 339.4,637.9 342.2,627.9 345.7,639.2 349.0,637.4 352.7,635.9 356.5,637.4 360.0,630.4 365.5,619.8 370.1,621.1 375.6,619.8 380.7,615.3 386.5,618.3 390.7,608.2 394.0,610.7 400.3,611.0 404.1,607.2 407.9,619.1 411.7,618.3 414.9,609.7 417.9,609.7 421.7,627.9 427.5,650.0 431.1,641.7 434.8,648.0 438.6,646.0 441.9,658.1 445.7,660.6 448.2,650.5 452.0,656.8 455.7,660.1 458.8,660.1 462.0,653.6 465.8,656.3 468.8,641.0 472.1,641.2 475.4,640.0 478.9,643.5 486.0,652.6 493.0,643.0 496.6,631.1 499.8,630.4 506.1,640.5 510.7,629.1 513.7,625.4 516.7,628.4 520.0,624.8 523.8,628.6 527.5,630.4 530.8,629.1 533.8,634.9 537.6,635.9 540.9,632.9 543.9,612.8 546.9,606.0 550.2,616.5 553.5,634.9 557.8,638.5 561.6,634.2 567.9,630.4 571.6,639.2 574.9,637.4 577.9,626.6 584.2,622.3 588.0,614.8 591.8,608.2 595.6,616.5 599.4,612.8 602.4,612.2 605.7,607.7 609.4,603.2 612.0,601.4 615.0,603.9 618.3,610.2 622.0,617.8 625.8,624.1 629.1,615.8 632.6,620.3 635.9,619.8 639.2,616.5 642.7,630.4 646.0,627.4 649.7,624.8 653.5,619.8 657.3,621.1 659.8,617.8 662.3,609.0 666.1,607.2 670.4,614.8 673.7,611.5 677.0,603.9 680.5,600.7 683.8,603.2 687.5,600.2 693.8,596.4 697.6,603.9 700.6,602.2 705.2,605.2 709.0,603.9 711.5,624.1 714.0,639.2 720.0,652.6 724.5,666.9 728.1,669.9 731.3,661.9 737.1,661.1 741.4,650.5 745.2,645.0 748.2,630.4 751.5,632.9 755.3,639.2 759.1,645.5 761.6,650.5 765.4,634.2 769.1,626.6 775.4,620.3 783.0,635.9 789.3,624.8 791.8,622.8 795.6,615.8 799.4,614.0 803.1,610.2 806.9,609.7 810.2,606.0 813.2,611.5 816.2,617.8 819.5,611.5 822.8,615.3 826.3,628.4 829.6,621.6 833.4,617.3 837.2,615.8 840.4,623.3 843.5,621.6 847.2,628.4 851.0,622.8 854.8,620.3 857.3,612.2 861.1,612.2 864.9,617.3 867.4,613.5 870.7,629.1 875.0,624.8 878.7,622.8 882.5,621.6 885.0,618.5 888.3,621.6 891.3,620.8 894.4,616.5 898.4,625.4 901.4,619.1 905.2,614.8 909.0,612.8 912.7,609.0 916.5,612.2 919.0,610.2 921.6,606.5 924.6,620.3 927.9,621.6 932.1,629.9 935.9,620.8 939.7,632.4 943.0,630.9 946.8,624.1 949.3,619.1 953.1,622.8 956.8,622.3 960.6,619.8 965.7,620.3 970.7,619.1 973.2,621.6 977.0,619.8 980.8,614.8 984.0,612.2 987.1,630.4 990.8,640.5 994.1,610.2 997.1,619.1 1000.2,629.1 1004.0,641.0 1007.2,634.2 1011.0,630.4 1014.8,624.1 1018.6,620.3 1022.3,619.1 1024.4,617.8 1027.4,635.9 1031.2,629.1 1034.9,636.7 1038.7,648.0 1042.0,655.1 1045.5,655.1 1048.8,642.5 1052.6,642.2 1055.6,644.2 1058.9,651.8 1060.0,655.6 1063.8,661.9 1068.8,650.5 1072.1,660.6 1075.6,656.8 1082.2,655.1 1085.7,674.5 1089.0,665.7 1092.8,655.6 1095.3,659.4 1099.1,670.7 1102.8,674.5 1107.9,669.4 1112.9,656.8 1116.7,658.1 1120.5,665.7 1125.5,663.1 1129.3,661.9 1133.1,665.7 1138.1,668.7 1143.1,671.2 1146.9,660.6 1150.7,646.0 1154.5,634.2 1157.0,633.4 1160.8,636.7 1164.6,631.7 1167.8,625.4 1171.4,629.1 1175.4,633.4 1178.9,624.1 1182.2,615.3 1185.5,611.5 1189.0,611.5 1193.5,612.2 1198.1,610.2 1201.6,620.3 1206.1,616.5 1211.2,624.1 1215.0,622.8 1219.2,634.2 1222.5,638.5 1225.8,620.3 1229.3,618.3 1232.6,626.6 1236.4,625.4 1239.4,617.3 1242.7,616.5 1245.9,615.8 1249.5,606.5 1252.7,609.7 1256.0,617.8 1259.5,616.5 1262.8,617.8 1266.1,620.3 1269.6,617.3 1272.9,614.8 1276.7,615.3 1280.5,613.3 1284.2,616.5 1286.8,617.3 1289.8,627.4 1293.1,626.6 1296.3,621.6 1299.4,626.6 1303.1,636.7 1306.9,648.0 1311.2,662.6" fill="none" stroke="#7e57c2" stroke-width="1.05" stroke-linejoin="round" stroke-linecap="round" />
<path d="M9.3 607.2C10.7 607.7 15.0 609.0 17.6 610.2C20.3 611.5 22.7 613.7 25.2 614.8C27.7 615.8 29.8 615.9 32.8 616.5C35.7 617.2 39.1 618.3 42.8 618.5C46.6 618.8 51.7 619.1 55.4 618.3C59.2 617.5 62.6 615.4 65.5 614.0C68.4 612.7 70.5 611.6 73.1 610.2C75.6 608.9 78.1 606.7 80.6 606.0C83.1 605.2 85.2 604.9 88.2 605.4C91.1 606.0 94.9 608.3 98.3 609.5C101.6 610.7 105.0 611.2 108.3 612.8C111.7 614.3 115.1 616.1 118.4 619.1C121.8 622.0 125.6 626.9 128.5 630.4C131.4 633.9 133.1 637.1 136.1 640.0C139.0 642.8 142.8 645.1 146.1 647.5C149.5 649.9 152.9 652.2 156.2 654.3C159.6 656.4 162.9 658.7 166.3 660.1C169.6 661.6 173.0 662.5 176.4 663.1C179.7 663.8 183.1 664.0 186.4 663.9C189.8 663.8 193.2 662.8 196.5 662.6C199.9 662.5 203.7 663.2 206.6 663.1C209.5 663.1 211.2 662.8 214.2 662.4C217.1 662.0 220.9 661.1 224.2 660.6C227.6 660.1 230.5 659.7 234.3 659.4C238.1 659.1 242.7 658.7 246.9 658.9C251.1 659.0 255.3 659.8 259.5 660.1C263.7 660.4 268.3 661.0 272.1 660.6C275.9 660.2 278.8 657.7 282.2 657.6C285.5 657.5 288.9 659.4 292.3 659.9C295.6 660.4 299.0 660.8 302.3 660.6C305.7 660.4 308.6 659.2 312.4 658.6C316.2 658.0 321.2 657.4 325.0 656.8C328.8 656.3 332.2 656.3 335.1 655.1C338.0 653.8 339.7 651.0 342.7 649.3C345.6 647.6 349.8 646.1 352.7 645.0C355.6 643.9 357.5 643.7 360.0 642.5C362.5 641.3 365.0 639.5 367.6 637.9C370.1 636.4 372.4 635.2 375.1 633.4C377.8 631.7 381.4 628.8 383.9 627.4C386.5 625.9 387.9 626.0 390.2 624.8C392.5 623.7 395.3 621.7 397.8 620.3C400.3 618.9 402.8 617.4 405.4 616.5C407.9 615.7 410.6 615.7 412.9 615.3C415.2 614.9 417.1 613.8 419.2 614.0C421.3 614.2 423.0 615.3 425.5 616.5C428.0 617.8 431.4 619.5 434.3 621.6C437.3 623.7 440.2 626.4 443.1 629.1C446.1 631.9 449.0 635.1 452.0 637.9C454.9 640.8 458.3 643.8 460.8 646.0C463.3 648.2 464.6 650.2 467.1 651.1C469.6 651.9 472.7 651.2 475.9 651.3C479.0 651.4 483.0 652.1 486.0 651.8C488.9 651.5 490.6 650.5 493.5 649.3C496.5 648.0 500.3 645.8 503.6 644.2C507.0 642.7 510.3 641.0 513.7 639.7C517.1 638.5 520.4 637.8 523.8 636.7C527.1 635.6 530.7 634.0 533.8 632.9C537.0 631.9 539.7 631.4 542.7 630.4C545.6 629.3 548.3 627.0 551.5 626.6C554.6 626.2 557.8 627.4 561.6 627.9C565.3 628.3 570.8 629.3 574.2 629.4C577.5 629.5 579.2 628.8 581.7 628.4C584.2 627.9 586.3 626.9 589.3 626.6C592.2 626.3 596.0 627.7 599.4 626.6C602.7 625.6 605.9 622.4 609.4 620.3C613.0 618.2 617.2 615.4 620.8 614.0C624.3 612.7 627.7 612.4 630.8 612.2C634.0 612.1 636.5 612.5 639.7 613.3C642.8 614.0 646.6 615.5 649.7 616.5C652.9 617.6 655.6 619.1 658.6 619.6C661.5 620.1 664.2 619.9 667.4 619.6C670.5 619.2 674.1 618.3 677.5 617.3C680.8 616.2 684.2 614.9 687.5 613.3C690.9 611.7 694.3 609.2 697.6 607.7C701.0 606.2 705.2 604.8 707.7 604.4C710.2 604.1 710.7 604.5 712.7 605.7C714.8 606.9 717.5 608.8 720.0 611.5C722.5 614.1 725.0 618.0 727.6 621.6C730.1 625.1 732.6 629.8 735.1 632.9C737.6 636.1 740.2 638.5 742.7 640.5C745.2 642.5 747.9 643.5 750.2 645.0C752.5 646.5 754.6 648.2 756.5 649.3C758.4 650.4 759.9 651.6 761.6 651.8C763.3 652.0 764.7 651.7 766.6 650.5C768.5 649.4 770.6 647.0 772.9 645.0C775.2 643.0 777.5 640.6 780.5 638.5C783.4 636.4 787.2 634.1 790.5 632.4C793.9 630.7 797.7 629.9 800.6 628.4C803.6 626.9 805.9 624.8 808.2 623.3C810.5 621.9 812.4 620.4 814.5 619.6C816.6 618.7 818.5 618.7 820.8 618.3C823.1 617.9 825.8 617.8 828.3 617.3C830.9 616.8 833.6 615.6 835.9 615.3C838.2 615.0 839.7 615.0 842.2 615.5C844.7 616.0 847.9 617.7 851.0 618.3C854.2 618.9 857.7 619.1 861.1 619.3C864.5 619.6 867.4 619.6 871.2 619.8C875.0 620.0 879.6 620.3 883.8 620.3C888.0 620.3 892.6 619.9 896.4 619.8C900.1 619.7 903.3 619.9 906.4 619.8C909.6 619.7 912.3 619.6 915.3 619.1C918.2 618.5 920.9 616.8 924.1 616.5C927.2 616.2 930.8 616.9 934.2 617.3C937.5 617.7 940.9 618.5 944.2 619.1C947.6 619.6 951.0 619.8 954.3 620.3C957.7 620.9 961.0 621.8 964.4 622.3C967.8 622.8 971.1 623.5 974.5 623.3C977.8 623.2 980.8 622.0 984.6 621.6C988.3 621.2 992.9 620.6 997.1 621.1C1001.3 621.5 1006.0 623.6 1009.7 624.3C1013.5 625.1 1017.3 625.3 1019.8 625.4C1022.3 625.4 1022.8 624.5 1024.9 624.8C1027.0 625.2 1030.3 626.9 1032.4 627.4C1034.5 627.8 1035.4 626.4 1037.5 627.4C1039.6 628.3 1042.1 631.6 1045.0 632.9C1048.0 634.3 1052.6 634.6 1055.1 635.4C1057.6 636.3 1057.9 636.5 1060.0 637.9C1062.1 639.4 1065.0 642.2 1067.6 644.2C1070.1 646.3 1072.6 648.4 1075.1 650.0C1077.6 651.6 1080.2 652.9 1082.7 653.8C1085.2 654.7 1087.7 654.8 1090.2 655.6C1092.8 656.4 1095.3 657.6 1097.8 658.6C1100.3 659.7 1102.8 661.2 1105.4 661.9C1107.9 662.6 1110.0 662.4 1112.9 662.6C1115.8 662.9 1119.6 662.9 1123.0 663.1C1126.3 663.4 1130.1 663.5 1133.1 663.9C1136.0 664.3 1138.5 665.3 1140.6 665.7C1142.7 666.0 1144.0 666.6 1145.7 666.2C1147.3 665.7 1148.8 664.4 1150.7 663.1C1152.6 661.9 1154.9 660.0 1157.0 658.6C1159.1 657.3 1161.0 656.4 1163.3 655.1C1165.6 653.7 1168.3 652.2 1170.9 650.5C1173.4 648.9 1175.9 647.3 1178.4 645.0C1180.9 642.7 1183.5 639.5 1186.0 636.7C1188.5 633.8 1191.2 630.2 1193.5 627.9C1195.8 625.6 1197.3 624.2 1199.8 622.8C1202.4 621.5 1205.5 620.4 1208.7 619.8C1211.8 619.3 1215.4 619.6 1218.7 619.6C1222.1 619.5 1225.9 619.1 1228.8 619.6C1231.7 620.0 1233.4 621.8 1236.4 622.3C1239.3 622.9 1243.1 623.1 1246.4 622.8C1249.8 622.6 1253.6 621.3 1256.5 620.8C1259.5 620.3 1261.6 620.4 1264.1 619.8C1266.6 619.2 1269.1 617.8 1271.6 617.3C1274.2 616.7 1276.7 616.9 1279.2 616.5C1281.7 616.2 1284.2 615.1 1286.8 615.3C1289.3 615.4 1291.8 616.4 1294.3 617.3C1296.8 618.1 1299.6 619.2 1301.9 620.3C1304.2 621.4 1306.6 623.0 1308.2 624.1C1309.7 625.2 1310.7 626.6 1311.2 627.1" fill="none" stroke="#e3cf3a" stroke-width="1.0" stroke-linejoin="round" stroke-linecap="round" />
</g>
<circle cx="1310.9" cy="574.4" r="8.4" fill="none" stroke="#b846cc" stroke-width="1.45"/>
<path d="M1313.9 569.9L1307 574.6L1310.6 574.8L1308 579L1314.5 574.2L1311 573.9Z" fill="#b846cc" stroke="#b846cc" stroke-width="0.25" stroke-linejoin="round"/>
<g font-family="Liberation Sans, sans-serif" font-size="10.2" fill="#b2b5be" stroke="#b2b5be" stroke-width="0.2">
<text x="1375" y="55.6" textLength="36.3" lengthAdjust="spacingAndGlyphs">154.000</text>
<text x="1375" y="157.1" textLength="36.3" lengthAdjust="spacingAndGlyphs">148.000</text>
<text x="1375" y="192.1" textLength="36.3" lengthAdjust="spacingAndGlyphs">146.000</text>
<text x="1375" y="226.6" textLength="36.3" lengthAdjust="spacingAndGlyphs">144.000</text>
<text x="1375" y="262.1" textLength="36.3" lengthAdjust="spacingAndGlyphs">142.000</text>
<text x="1375" y="298.1" textLength="36.3" lengthAdjust="spacingAndGlyphs">140.000</text>
<text x="1375" y="335.1" textLength="36.3" lengthAdjust="spacingAndGlyphs">138.000</text>
<text x="1375" y="372.6" textLength="36.3" lengthAdjust="spacingAndGlyphs">136.000</text>
<text x="1375" y="410.1" textLength="36.3" lengthAdjust="spacingAndGlyphs">134.000</text>
<text x="1375" y="438.6" textLength="36.3" lengthAdjust="spacingAndGlyphs">132.500</text>
<text x="1375" y="467.6" textLength="36.3" lengthAdjust="spacingAndGlyphs">131.000</text>
<text x="1375" y="497.1" textLength="36.3" lengthAdjust="spacingAndGlyphs">129.500</text>
<text x="1375" y="526.6" textLength="36.3" lengthAdjust="spacingAndGlyphs">128.000</text>
<text x="1375" y="555.1" textLength="36.3" lengthAdjust="spacingAndGlyphs">126.600</text>
<text x="1375" y="583.1" textLength="36.3" lengthAdjust="spacingAndGlyphs">125.200</text>
<text x="1375" y="593.6" textLength="25" lengthAdjust="spacingAndGlyphs">80.00</text>
<text x="1375" y="626.6" textLength="25" lengthAdjust="spacingAndGlyphs">60.00</text>
<text x="1375" y="659.6" textLength="25" lengthAdjust="spacingAndGlyphs">40.00</text>
</g>
<g font-family="Liberation Sans, sans-serif" font-size="10.2">
<text x="1375" y="122.6" fill="#b2b5be" textLength="36.3" lengthAdjust="spacingAndGlyphs">150.000</text>
<rect x="1367.5" y="78.2" width="49.5" height="15.6" rx="2" fill="#ffffff"/>
<text x="1375" y="89.6" fill="#131722" textLength="36.3" lengthAdjust="spacingAndGlyphs">152.001</text>
<rect x="1367.5" y="96.7" width="49.5" height="15.6" rx="2" fill="#ffffff"/>
<text x="1375" y="108.1" fill="#131722" textLength="36.3" lengthAdjust="spacingAndGlyphs">150.850</text>
<rect x="1367.5" y="116.7" width="49.5" height="15.6" rx="2" fill="#ffffff"/>
<text x="1375" y="128.1" fill="#131722" textLength="36.3" lengthAdjust="spacingAndGlyphs">149.704</text>
<rect x="1323" y="163.2" width="94" height="15.6" rx="2" fill="#ef5350"/>
<line x1="1367.5" y1="163.2" x2="1367.5" y2="178.8" stroke="#d84a48" stroke-width="1"/>
<text x="1327.5" y="174.6" fill="#ffffff" textLength="35" lengthAdjust="spacingAndGlyphs">USDJPY</text>
<text x="1375" y="174.6" fill="#ffffff" textLength="36.3" lengthAdjust="spacingAndGlyphs">147.030</text>
</g>
<g font-family="Liberation Sans, sans-serif" font-size="10.7" fill="#b2b5be" stroke="#b2b5be" stroke-width="0.2" text-anchor="middle" clip-path="url(#cpTime)">
<text x="36.6" y="699.8">Oct</text>
<text x="108.6" y="699.8">Nov</text>
<text x="183" y="699.8">Dec</text>
<text x="257.6" y="699.8">2023</text>
<text x="332.6" y="699.8">Feb</text>
<text x="404.3" y="699.8">2</text>
<text x="479" y="699.8">Apr</text>
<text x="551.3" y="699.8">2</text>
<text x="626.5" y="699.8">Jun</text>
<text x="700.7" y="699.8">Jul</text>
<text x="772" y="699.8">Aug</text>
<text x="851" y="699.8">Sep</text>
<text x="922" y="699.8">Oct</text>
<text x="997" y="699.8">Nov</text>
<text x="1072.6" y="699.8">Dec</text>
<text x="1143.7" y="699.8">2024</text>
<text x="1221.8" y="699.8">Feb</text>
<text x="1293.3" y="699.8">Mar</text>
<text x="1365.3" y="699.8" textLength="15.6" lengthAdjust="spacingAndGlyphs">Apr</text>
</g>
<g font-family="Liberation Sans, sans-serif">
<text x="8.7" y="17.3" font-size="11" fill="#d1d4dc" stroke="#d1d4dc" stroke-width="0.3" textLength="329.5" lengthAdjust="spacingAndGlyphs">dacolmanfx published on TradingView.com, Mar 09, 2024 20:22 UTC-5</text>
<text x="15.8" y="41.2" font-size="10.2" fill="#b2b5be" stroke="#b2b5be" stroke-width="0.25" textLength="166.6" lengthAdjust="spacingAndGlyphs">U.S. Dollar / Japanese Yen, 1D, ICE</text>
</g>
<g font-family="Liberation Sans, sans-serif" font-size="10.2">
<text x="189.4" y="41.2" fill="#b2b5be" stroke="#b2b5be" stroke-width="0.25" textLength="6.3" lengthAdjust="spacingAndGlyphs">O</text>
<text x="197.2" y="41.2" fill="#ef5350" stroke="#ef5350" stroke-width="0.25" textLength="35.9" lengthAdjust="spacingAndGlyphs">148.026</text>
<text x="240.5" y="41.2" fill="#b2b5be" stroke="#b2b5be" stroke-width="0.25" textLength="6.3" lengthAdjust="spacingAndGlyphs">H</text>
<text x="247.6" y="41.2" fill="#ef5350" stroke="#ef5350" stroke-width="0.25" textLength="35.3" lengthAdjust="spacingAndGlyphs">148.121</text>
<text x="290.9" y="41.2" fill="#b2b5be" stroke="#b2b5be" stroke-width="0.25" textLength="4.6" lengthAdjust="spacingAndGlyphs">L</text>
<text x="296.5" y="41.2" fill="#ef5350" stroke="#ef5350" stroke-width="0.25" textLength="35.7" lengthAdjust="spacingAndGlyphs">146.485</text>
<text x="339.1" y="41.2" fill="#b2b5be" stroke="#b2b5be" stroke-width="0.25" textLength="6.3" lengthAdjust="spacingAndGlyphs">C</text>
<text x="346.3" y="41.2" fill="#ef5350" stroke="#ef5350" stroke-width="0.25" textLength="36.3" lengthAdjust="spacingAndGlyphs">147.030</text>
<text x="390" y="41.2" fill="#ef5350" stroke="#ef5350" stroke-width="0.25" textLength="29.3" lengthAdjust="spacingAndGlyphs">−0.999</text>
<text x="424.6" y="41.2" fill="#ef5350" stroke="#ef5350" stroke-width="0.25" textLength="39.3" lengthAdjust="spacingAndGlyphs">(−0.67%)</text>
</g>
<g fill="#d5d8e0"><g transform="translate(8.8,716.5) scale(0.4778)"><path d="M14 22H7V11H0V4h14v18zM28 22h-8l7.5-18h8L28 22z"/><circle cx="20" cy="8" r="4"/></g>
<text x="29.2" y="727.8" font-size="11.3" font-weight="bold" textLength="62" lengthAdjust="spacingAndGlyphs" font-family="Liberation Sans, sans-serif">TradingView</text></g>
<g transform="translate(1.2,1.2)" fill="#000" opacity="0.35"><path d="M1195.3 646.8L1204.5 646.8L1202.4 661.9L1193.9 661.9ZM1190.6 663.8L1199.4 663.8L1197.5 675.1L1203.3 675.1L1201.3 682.7L1195.3 682.7L1189.2 699.7L1180.7 699.7L1181.1 694.0L1184.4 694.0L1187.8 682.7L1189.2 675.1ZM1215.8 646.4L1226.5 646.4L1225.7 649.0L1246.0 649.0L1244.5 656.2L1214.2 656.2L1212.8 658.1L1205.4 658.1L1209.2 651.1L1213.3 651.1ZM1218.6 665.7L1225.5 665.7L1227.1 675.1L1220.3 675.1ZM1214.5 682.7L1221.3 682.7L1223.0 694.0L1216.1 694.0ZM1255.8 646.8L1304.6 646.8L1302.7 654.2L1254.2 654.2ZM1294.8 654.2L1302.7 654.2L1299.5 668.3L1291.4 668.3ZM1254.5 657.5L1262.4 657.5L1259.6 668.3L1251.7 668.3ZM1251.7 668.3L1299.7 668.3L1297.6 676.4L1249.2 676.4ZM1289.8 676.4L1297.6 676.4L1292.0 699.7L1283.6 699.7ZM1269.5 694.0L1285.5 694.0L1283.6 699.7L1268.1 699.7ZM1245.4 683.0L1285.3 683.0L1283.6 690.1L1243.5 690.1ZM1304.4 686.5L1314.3 686.5L1310.1 699.7L1299.2 699.7ZM1320.9 684.4L1330.8 684.4L1327.3 699.7L1316.7 699.7ZM1339.3 655.1L1367.2 655.1L1365.3 663.1L1337.5 663.1ZM1355.9 647.1L1366.9 647.1L1354.9 692.9L1351.6 699.7L1340.3 699.7L1341.7 694.0L1345.0 694.0ZM1345.5 663.1L1354.5 663.1L1338.4 699.7L1328.5 699.7ZM1382.8 647.1L1393.0 647.1L1380.2 661.5L1393.0 661.5L1391.3 668.3L1387.1 668.3L1375.1 679.7L1387.3 679.7L1385.6 686.5L1365.0 686.5L1366.6 680.2L1378.6 668.3L1369.6 668.3L1371.0 662.2ZM1366.3 694.0L1415.4 694.0L1413.8 699.7L1364.4 699.7ZM1397.4 647.1L1427.0 647.1L1425.3 654.2L1395.8 654.2ZM1414.9 654.2L1425.3 654.2L1415.9 662.2L1405.5 662.2ZM1399.8 657.5L1408.8 655.1L1421.5 667.4L1411.1 667.4ZM1392.7 667.4L1422.0 667.4L1420.6 673.1L1391.3 673.1ZM1389.4 676.4L1420.1 676.4L1418.5 683.3L1387.7 683.3ZM1399.8 683.3L1408.8 683.3L1406.4 694.0L1397.4 694.0Z" fill-rule="nonzero"/><path d="M1206.2 658.1L1243.2 658.1L1231.7 699.7L1196.7 699.7ZM1215.6 665.7L1232.6 665.7L1230.0 675.1L1212.8 675.1ZM1210.1 682.7L1227.9 682.7L1224.6 694.0L1206.6 694.0Z" fill-rule="evenodd"/><path d="M1312.4 647.1L1339.5 647.1L1330.4 686.5L1303.4 686.5ZM1318.1 656.5L1321.1 656.5L1313.6 684.4L1310.5 684.4ZM1326.6 656.5L1329.3 656.5L1323.5 681.6L1320.7 681.6Z" fill-rule="evenodd"/></g>
<g fill="#ffffff" opacity="0.57"><path d="M1195.3 646.8L1204.5 646.8L1202.4 661.9L1193.9 661.9ZM1190.6 663.8L1199.4 663.8L1197.5 675.1L1203.3 675.1L1201.3 682.7L1195.3 682.7L1189.2 699.7L1180.7 699.7L1181.1 694.0L1184.4 694.0L1187.8 682.7L1189.2 675.1ZM1215.8 646.4L1226.5 646.4L1225.7 649.0L1246.0 649.0L1244.5 656.2L1214.2 656.2L1212.8 658.1L1205.4 658.1L1209.2 651.1L1213.3 651.1ZM1218.6 665.7L1225.5 665.7L1227.1 675.1L1220.3 675.1ZM1214.5 682.7L1221.3 682.7L1223.0 694.0L1216.1 694.0ZM1255.8 646.8L1304.6 646.8L1302.7 654.2L1254.2 654.2ZM1294.8 654.2L1302.7 654.2L1299.5 668.3L1291.4 668.3ZM1254.5 657.5L1262.4 657.5L1259.6 668.3L1251.7 668.3ZM1251.7 668.3L1299.7 668.3L1297.6 676.4L1249.2 676.4ZM1289.8 676.4L1297.6 676.4L1292.0 699.7L1283.6 699.7ZM1269.5 694.0L1285.5 694.0L1283.6 699.7L1268.1 699.7ZM1245.4 683.0L1285.3 683.0L1283.6 690.1L1243.5 690.1ZM1304.4 686.5L1314.3 686.5L1310.1 699.7L1299.2 699.7ZM1320.9 684.4L1330.8 684.4L1327.3 699.7L1316.7 699.7ZM1339.3 655.1L1367.2 655.1L1365.3 663.1L1337.5 663.1ZM1355.9 647.1L1366.9 647.1L1354.9 692.9L1351.6 699.7L1340.3 699.7L1341.7 694.0L1345.0 694.0ZM1345.5 663.1L1354.5 663.1L1338.4 699.7L1328.5 699.7ZM1382.8 647.1L1393.0 647.1L1380.2 661.5L1393.0 661.5L1391.3 668.3L1387.1 668.3L1375.1 679.7L1387.3 679.7L1385.6 686.5L1365.0 686.5L1366.6 680.2L1378.6 668.3L1369.6 668.3L1371.0 662.2ZM1366.3 694.0L1415.4 694.0L1413.8 699.7L1364.4 699.7ZM1397.4 647.1L1427.0 647.1L1425.3 654.2L1395.8 654.2ZM1414.9 654.2L1425.3 654.2L1415.9 662.2L1405.5 662.2ZM1399.8 657.5L1408.8 655.1L1421.5 667.4L1411.1 667.4ZM1392.7 667.4L1422.0 667.4L1420.6 673.1L1391.3 673.1ZM1389.4 676.4L1420.1 676.4L1418.5 683.3L1387.7 683.3ZM1399.8 683.3L1408.8 683.3L1406.4 694.0L1397.4 694.0Z" fill-rule="nonzero"/><path d="M1206.2 658.1L1243.2 658.1L1231.7 699.7L1196.7 699.7ZM1215.6 665.7L1232.6 665.7L1230.0 675.1L1212.8 675.1ZM1210.1 682.7L1227.9 682.7L1224.6 694.0L1206.6 694.0Z" fill-rule="evenodd"/><path d="M1312.4 647.1L1339.5 647.1L1330.4 686.5L1303.4 686.5ZM1318.1 656.5L1321.1 656.5L1313.6 684.4L1310.5 684.4ZM1326.6 656.5L1329.3 656.5L1323.5 681.6L1320.7 681.6Z" fill-rule="evenodd"/></g>
<g transform="scale(1.3,1)"><text x="920.46 941.15 962.00 981.08 996.69 1018.85 1040.31 1055.92 1073.77" y="734.5999999999999" font-size="29" font-weight="bold" font-style="italic" font-family="Liberation Sans, sans-serif" fill="#0a0f1c" stroke="#0a0f1c" stroke-width="0.8" opacity="0.6">zzrt01.cn</text></g>
<g transform="scale(1.3,1)"><text x="919.46 940.15 961.00 980.08 995.69 1017.85 1039.31 1054.92 1072.77" y="733.3" font-size="29" font-weight="bold" font-style="italic" font-family="Liberation Sans, sans-serif" fill="#1b40a6" stroke="#1b40a6" stroke-width="0.8" >zzrt01.cn</text></g>
</svg>
</body></html>
